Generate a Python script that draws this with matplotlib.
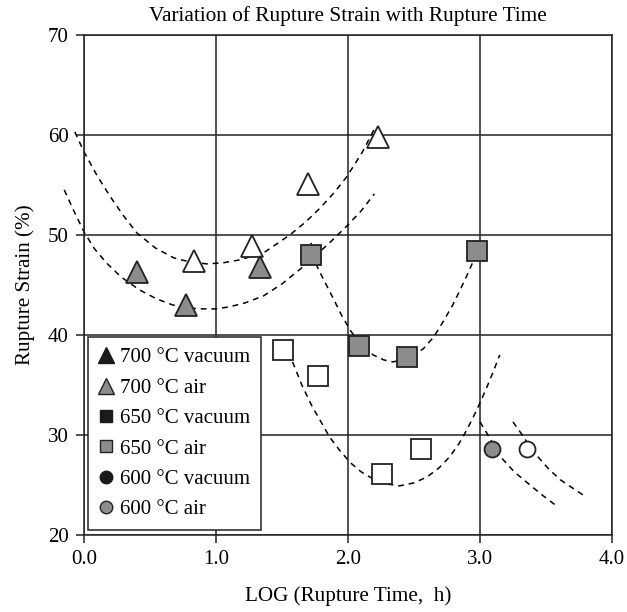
import numpy as np
import matplotlib.pyplot as plt
from matplotlib.lines import Line2D

plt.rcParams['font.family'] = ['Liberation Serif', 'DejaVu Serif']

# ----------------------------------------------------------------------
# Data
# ----------------------------------------------------------------------
# 700 C
tri_vac_x = [0.83, 1.27, 1.70, 2.23]
tri_vac_y = [47.4, 48.9, 55.1, 59.8]
tri_air_x = [0.40, 0.77, 1.33]
tri_air_y = [46.3, 43.0, 46.8]
# 650 C
sq_vac_x = [1.51, 1.77, 2.26, 2.55]
sq_vac_y = [38.5, 35.9, 26.1, 28.6]
sq_air_x = [1.72, 2.08, 2.45, 2.98]
sq_air_y = [48.0, 38.9, 37.8, 48.4]
# 600 C
ci_vac_x = [3.36]
ci_vac_y = [28.6]
ci_air_x = [3.09]
ci_air_y = [28.6]

# dashed trend curves
tr_tri_vac_x = [-0.07, 0.0, 0.10, 0.20, 0.30, 0.40, 0.54, 0.68, 0.80, 0.93, 1.05, 1.18,
                1.36, 1.56, 1.68, 1.79, 1.90, 1.99, 2.11, 2.20]
tr_tri_vac_y = [60.3, 58.3, 55.9, 53.8, 51.9, 50.2, 48.7, 47.7, 47.3, 47.1, 47.2, 47.5,
                48.2, 50.0, 51.3, 52.7, 54.3, 55.8, 58.3, 60.6]
tr_tri_air_x = [-0.15, -0.07, 0.0, 0.08, 0.17, 0.28, 0.42, 0.55, 0.67, 0.78, 0.88, 1.00,
                1.10, 1.22, 1.36, 1.50, 1.64, 1.76, 1.86, 2.00, 2.10, 2.20]
tr_tri_air_y = [54.5, 52.2, 50.3, 48.6, 47.2, 45.8, 44.5, 43.6, 43.0, 42.7, 42.6, 42.6,
                42.8, 43.2, 43.9, 45.1, 46.6, 48.0, 49.2, 51.0, 52.4, 54.1]
tr_sq_air_x = [1.72, 1.76, 1.82, 1.89, 1.95, 2.02, 2.10, 2.19, 2.27, 2.34, 2.45, 2.57,
               2.65, 2.72, 2.79, 2.85, 2.91, 2.97]
tr_sq_air_y = [49.2, 47.0, 45.4, 43.6, 42.0, 40.4, 39.0, 38.0, 37.5, 37.3, 37.6, 38.6,
               39.8, 41.3, 42.9, 44.5, 46.2, 48.0]
tr_sq_vac_x = [1.58, 1.65, 1.73, 1.80, 1.86, 1.94, 2.02, 2.10, 2.19, 2.29, 2.39, 2.50,
               2.60, 2.69, 2.77, 2.84, 2.90, 2.95, 3.00, 3.05, 3.10, 3.15]
tr_sq_vac_y = [37.3, 35.0, 32.8, 31.2, 29.8, 28.4, 27.2, 26.3, 25.6, 25.1, 24.9, 25.2,
               25.8, 26.7, 27.8, 29.1, 30.5, 31.8, 33.2, 34.7, 36.3, 38.0]
tr_ci_air_x = [3.00, 3.06, 3.11, 3.17, 3.26, 3.36, 3.46, 3.57]
tr_ci_air_y = [31.3, 30.0, 28.8, 27.6, 26.3, 25.2, 24.1, 23.0]
tr_ci_vac_x = [3.25, 3.32, 3.38, 3.44, 3.52, 3.61, 3.70, 3.78]
tr_ci_vac_y = [31.3, 30.0, 28.8, 27.8, 26.6, 25.5, 24.7, 24.0]

legend_labels = ['700 °C vacuum', '700 °C air', '650 °C vacuum',
                 '650 °C air', '600 °C vacuum', '600 °C air']

# ----------------------------------------------------------------------
# Plot
# ----------------------------------------------------------------------
fig = plt.figure(figsize=(6.27, 6.12), dpi=100)
ax = fig.add_axes([0.134, 0.126, 0.842, 0.817])

gray = '#8c8c8f'
edge = '#222222'

# trend curves
dash = dict(color='black', lw=1.1, ls=(0, (3.8, 3.2)), zorder=2)
for cx, cy in [(tr_tri_vac_x, tr_tri_vac_y), (tr_tri_air_x, tr_tri_air_y),
               (tr_sq_air_x, tr_sq_air_y), (tr_sq_vac_x, tr_sq_vac_y),
               (tr_ci_air_x, tr_ci_air_y), (tr_ci_vac_x, tr_ci_vac_y)]:
    ax.plot(cx, cy, clip_on=False, **dash)

# markers
mk = dict(ls='none', markeredgecolor=edge, markeredgewidth=1.3, zorder=4, clip_on=False)
ax.plot(tri_vac_x, tri_vac_y, marker='^', ms=16, markerfacecolor='white', **mk)
ax.plot(tri_air_x, tri_air_y, marker='^', ms=16, markerfacecolor=gray, **mk)
ax.plot(sq_vac_x, sq_vac_y, marker='s', ms=14, markerfacecolor='white', **mk)
ax.plot(sq_air_x, sq_air_y, marker='s', ms=14, markerfacecolor=gray, **mk)
ax.plot(ci_vac_x, ci_vac_y, marker='o', ms=11.5, markerfacecolor='white', **mk)
ax.plot(ci_air_x, ci_air_y, marker='o', ms=11.5, markerfacecolor=gray, **mk)

ax.set_xlim(0, 4)
ax.set_ylim(20, 70)
ax.set_xticks(np.arange(0, 4.1, 1.0))
ax.set_xticklabels(['%.1f' % v for v in np.arange(0, 4.1, 1.0)])
ax.set_yticks(np.arange(20, 71, 10))
ax.grid(True, color='#222222', lw=1.1)
ax.set_axisbelow(True)
for s in ax.spines.values():
    s.set_color('#222222')
    s.set_linewidth(1.1)
ax.tick_params(labelsize=15, length=6, width=1.1, color='#222222', pad=5)

ax.set_title('Variation of Rupture Strain with Rupture Time', fontsize=15.3, pad=10)
ax.set_xlabel('LOG (Rupture Time,  h)', fontsize=15.2, labelpad=12)
ax.set_ylabel('Rupture Strain (%)', fontsize=15.2, labelpad=9)

# legend (vacuum entries shown filled black as in the original)
handles = [
    Line2D([], [], ls='none', marker='^', ms=11, mfc='#1a1a1a', mec='#1a1a1a'),
    Line2D([], [], ls='none', marker='^', ms=11, mfc=gray, mec=edge),
    Line2D([], [], ls='none', marker='s', ms=8.5, mfc='#1a1a1a', mec='#1a1a1a'),
    Line2D([], [], ls='none', marker='s', ms=8.5, mfc=gray, mec=edge),
    Line2D([], [], ls='none', marker='o', ms=9, mfc='#1a1a1a', mec='#1a1a1a'),
    Line2D([], [], ls='none', marker='o', ms=9, mfc=gray, mec=edge),
]
leg = ax.legend(handles, legend_labels, loc='lower left', bbox_to_anchor=(0.0076, 0.01),
                fontsize=15, frameon=True, fancybox=False, framealpha=1,
                edgecolor='#222222', handlelength=0.7, handletextpad=0.35,
                labelspacing=0.52, borderpad=0.5, borderaxespad=0)
leg.get_frame().set_linewidth(1.1)
leg.set_zorder(5)

fig.savefig('out.png', dpi=100)
